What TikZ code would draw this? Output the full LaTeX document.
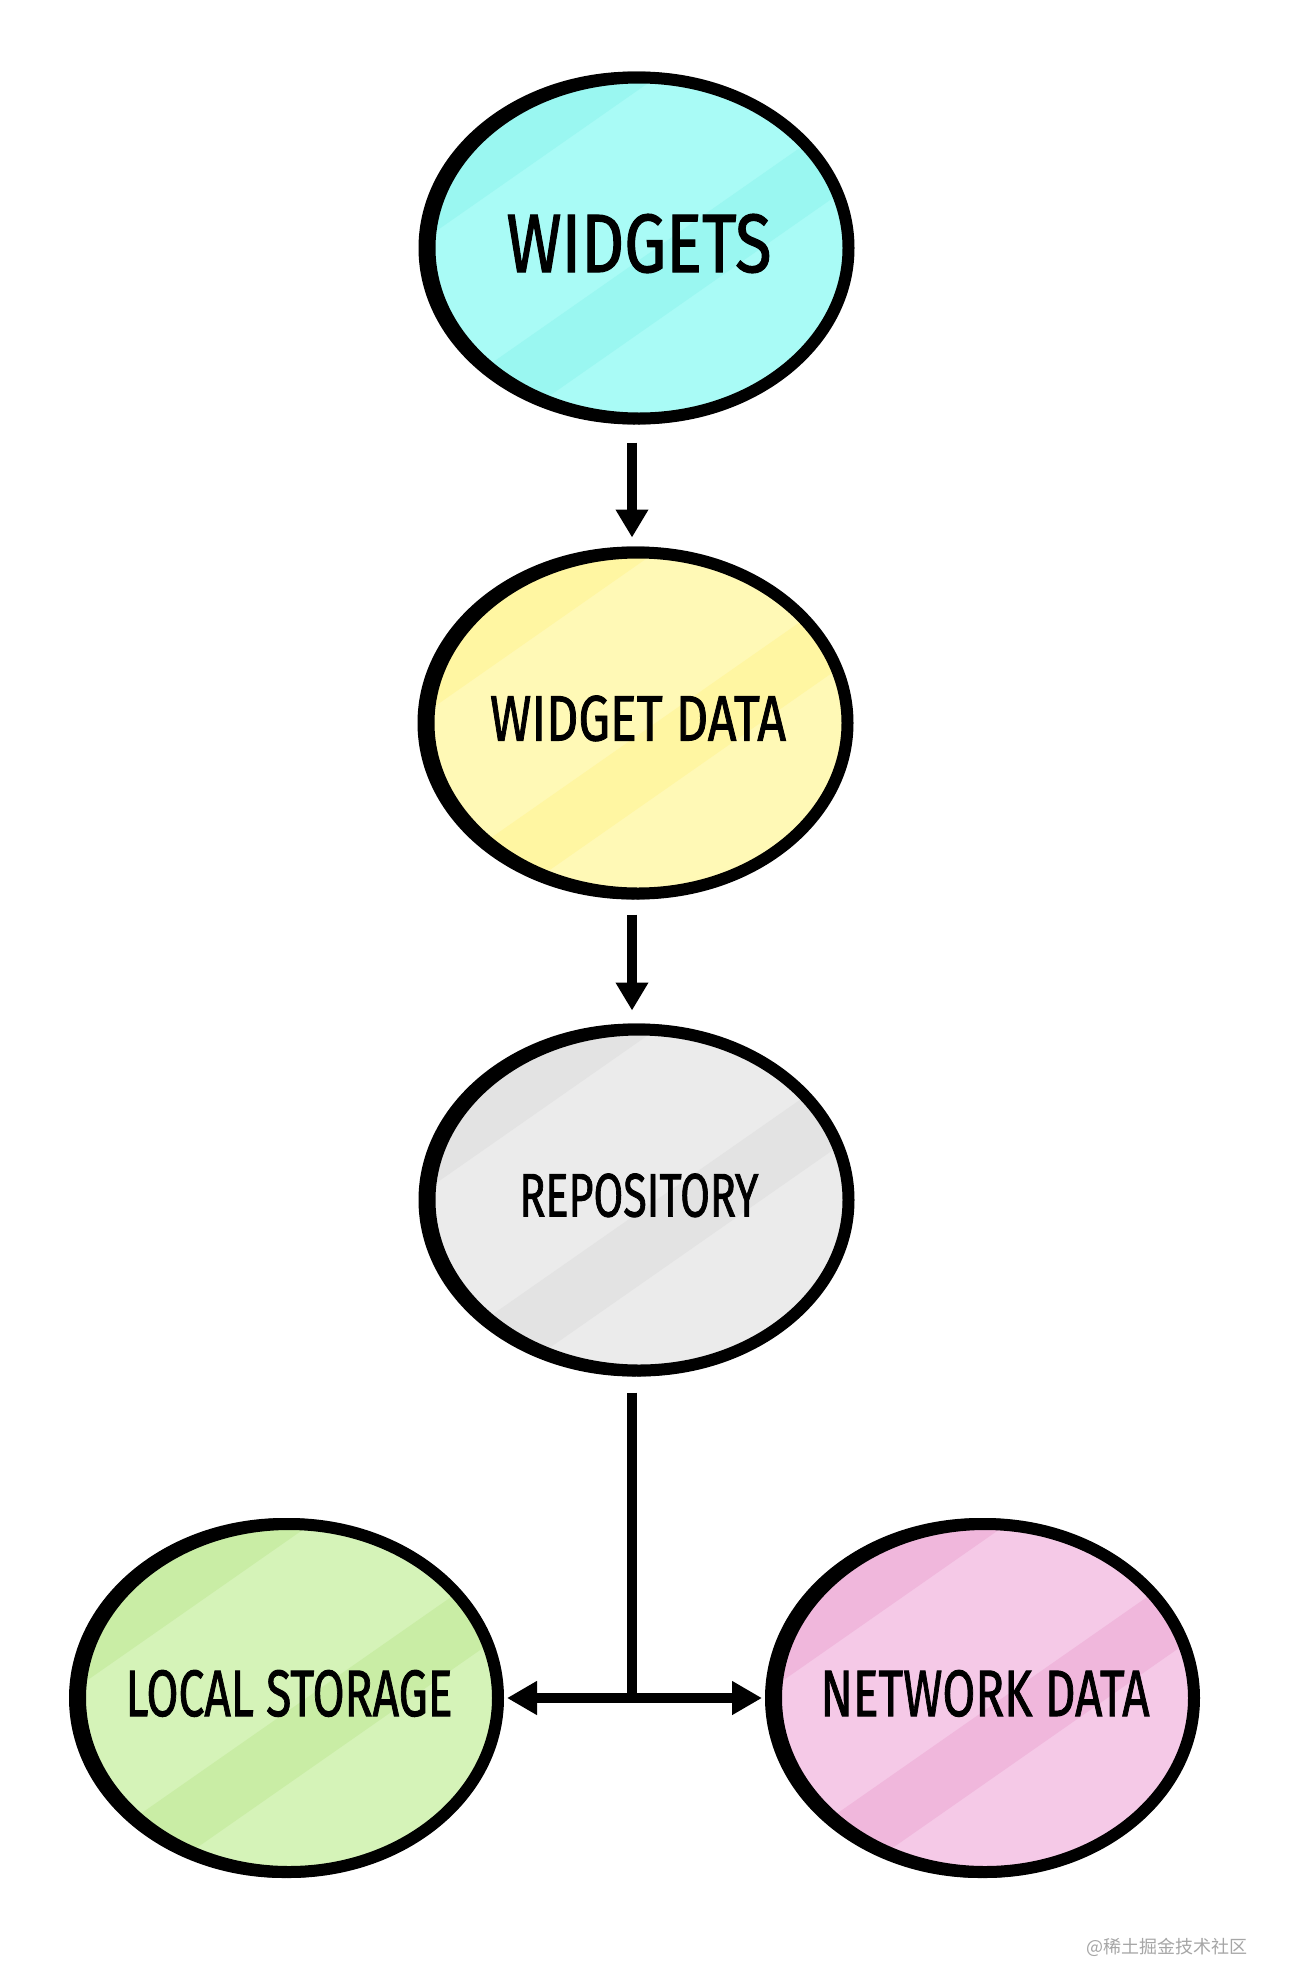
\documentclass[tikz,border=0pt]{standalone}
\usepackage{fontspec}
\usepackage{graphicx}
\setmainfont{Fira Sans}
\newfontfamily\handfont[FakeBold=1.5]{Fira Sans}
\newfontfamily\cjk{Noto Sans CJK SC}
\usetikzlibrary{shapes.geometric,arrows.meta}

\definecolor{cyanfill}{HTML}{A9FBF6}
\definecolor{cyanband}{HTML}{9AF7F1}
\definecolor{yellowfill}{HTML}{FFF9B6}
\definecolor{yellowband}{HTML}{FFF6A2}
\definecolor{grayfill}{HTML}{EBEBEB}
\definecolor{grayband}{HTML}{E3E3E3}
\definecolor{greenfill}{HTML}{D5F3B8}
\definecolor{greenband}{HTML}{C9EDA5}
\definecolor{pinkfill}{HTML}{F5C9E7}
\definecolor{pinkband}{HTML}{F0B7DC}

% label squeezed to the size it has in the sketch
\newcommand{\lbl}[3]{\makebox[0pt]{\resizebox{#1pt}{#2pt}{\handfont #3}}}

\tikzset{
  blob/.style 2 args={ellipse, draw=black, line width=12pt, fill=#1,
    minimum width=419pt, minimum height=341pt, inner sep=0pt, text depth=10pt,
    preaction={draw=black, line width=12pt, transform canvas={xshift=-5pt}},
    path picture={
      \foreach \d in {-190,10,200}
        \fill[#2] ([shift={({-328+0.574*\d},{229+0.819*\d})}]path picture bounding box.center)
          -- ([shift={({328+0.574*\d},{-229+0.819*\d})}]path picture bounding box.center)
          -- ([shift={({328+0.574*(\d+60)},{-229+0.819*(\d+60)})}]path picture bounding box.center)
          -- ([shift={({-328+0.574*(\d+60)},{229+0.819*(\d+60)})}]path picture bounding box.center) -- cycle;}},
  low blob/.style={minimum width=418pt, minimum height=348pt},
  down arrow/.style={line width=10pt, -{Triangle[width=31pt,length=28pt]}},
  fork arrow/.style={line width=10pt, {Triangle[width=32pt,length=30pt]}-{Triangle[width=32pt,length=30pt]}}
}

\begin{document}
\begin{tikzpicture}[x=1pt, y=-1pt]
  \useasboundingbox[fill=white] (0,0) rectangle (1289,1987);

  \node[blob={cyanfill}{cyanband}] (widgets) at (639,248) {\lbl{265}{58}{WIDGETS}};
  \node[blob={yellowfill}{yellowband}] (wdata) at (638,723) {\lbl{296}{45}{WIDGET DATA}};
  \node[blob={grayfill}{grayband}] (repo) at (639,1200) {\lbl{239}{43}{REPOSITORY}};
  \node[blob={greenfill}{greenband}, low blob] (local) at (289,1698) {\lbl{327}{46}{LOCAL STORAGE}};
  \node[blob={pinkfill}{pinkband}, low blob] (network) at (985,1698) {\lbl{329}{46}{NETWORK DATA}};

  \coordinate (fork) at ([xshift=-7pt]repo.south |- local.east);

  \draw[down arrow, shorten <=18pt, shorten >=9pt] ([xshift=-7pt]widgets.south) -- ([xshift=-6pt]wdata.north);
  \draw[down arrow, shorten <=15pt, shorten >=13pt] ([xshift=-6pt]wdata.south) -- ([xshift=-7pt]repo.north);
  \draw[line width=10pt, shorten <=16pt] ([xshift=-7pt]repo.south) -- (fork);
  \draw[fork arrow, shorten <=3pt, shorten >=8pt] (local.east) -- (network.west);

  \node[anchor=east, text=black!35, font=\cjk\fontsize{18pt}{18pt}\selectfont] (mark) at (1251,1947) {@稀土掘金技术社区};
\end{tikzpicture}
\end{document}
